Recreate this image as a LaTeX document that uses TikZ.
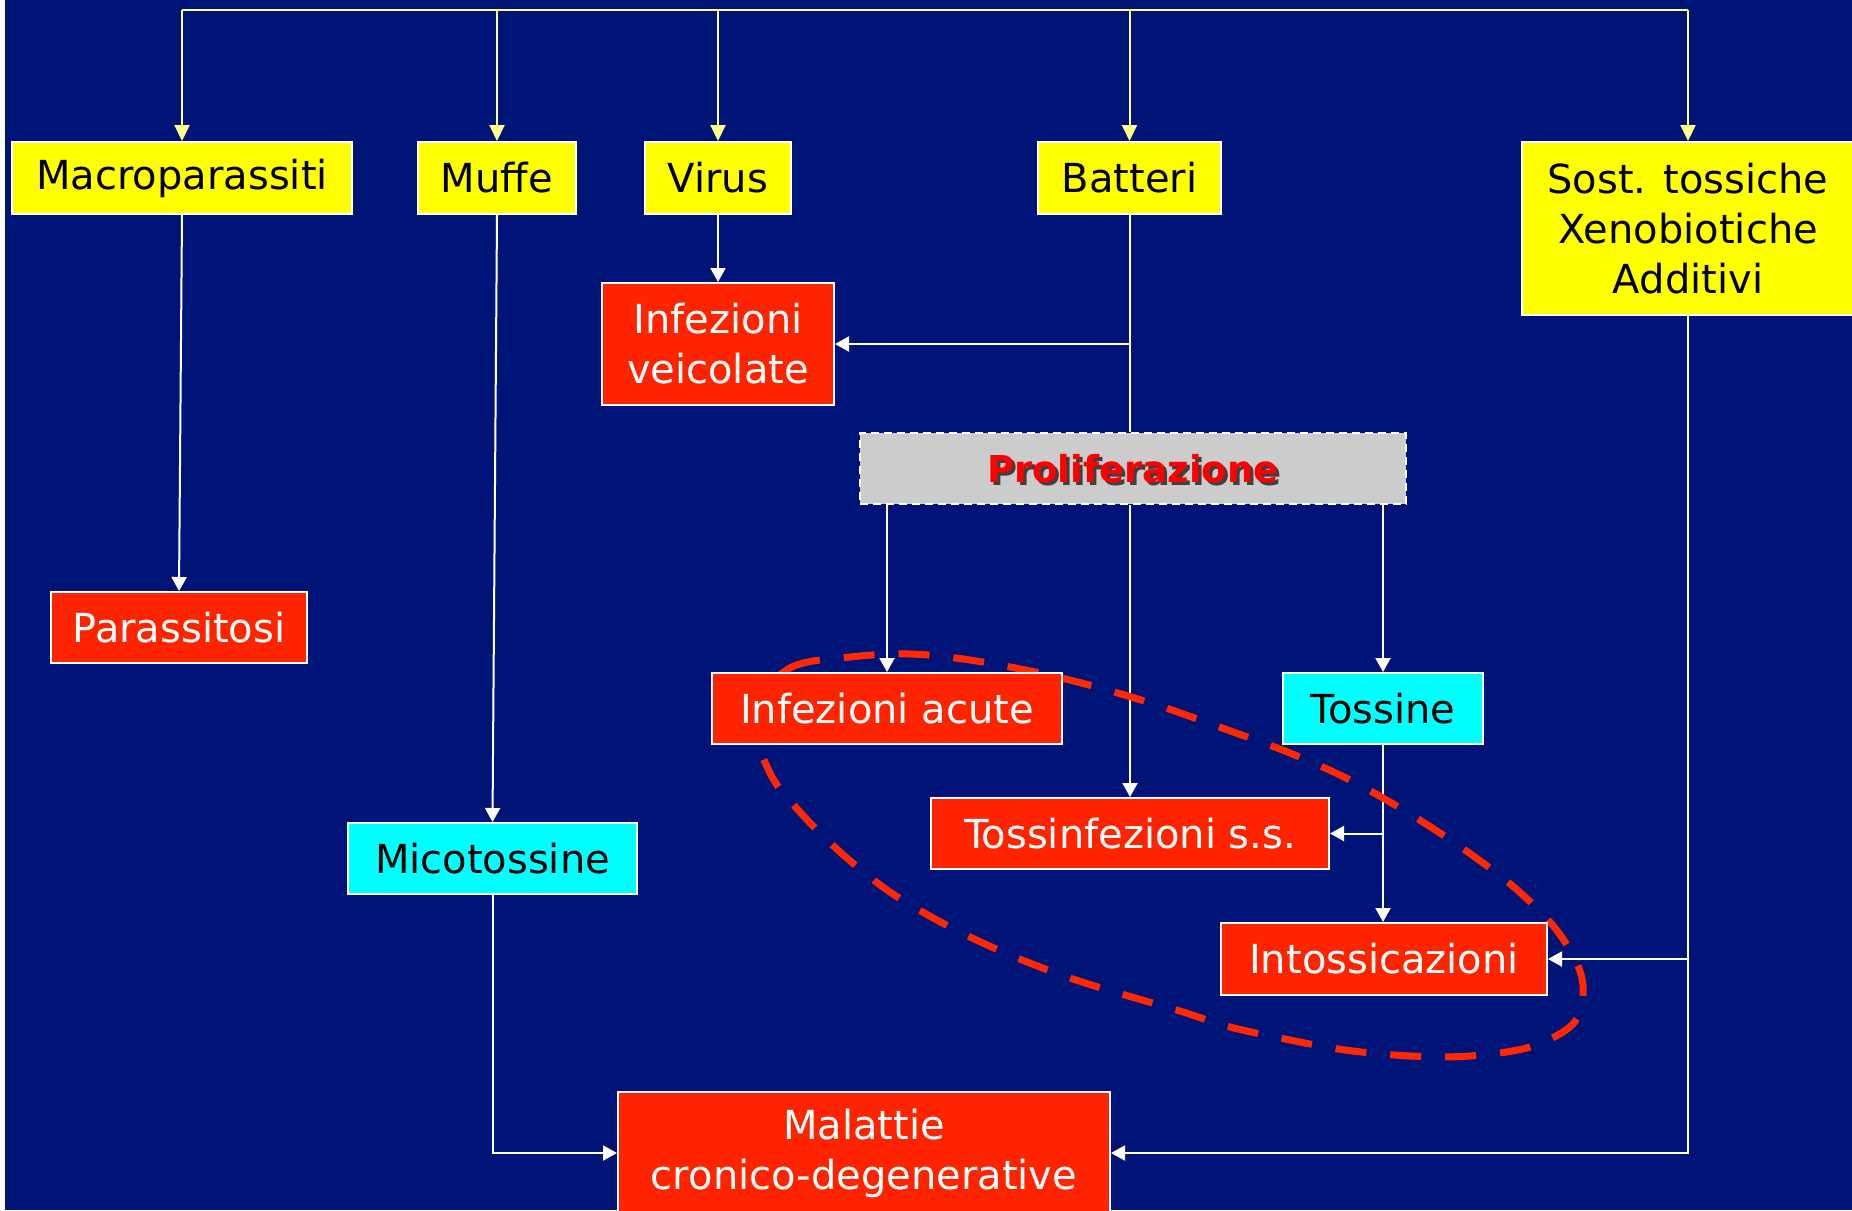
\documentclass[tikz,border=0pt]{standalone}
\usepackage{fontspec}
\setmainfont{DejaVu Sans}
\usetikzlibrary{arrows.meta}
\definecolor{navy}{RGB}{0,20,120}
\definecolor{boxred}{RGB}{255,36,0}
\definecolor{boxyellow}{RGB}{255,255,0}
\definecolor{boxcyan}{RGB}{0,255,255}
\definecolor{boxgray}{RGB}{204,204,204}
\definecolor{paleyellow}{RGB}{255,255,140}
\definecolor{ovalred}{RGB}{255,40,0}
\pgfdeclarelayer{bg}
\pgfdeclarelayer{mid}
\pgfsetlayers{bg,mid,main}
\tikzset{
  box/.style={draw=white, line width=2pt, inner sep=0pt, align=center,
    font=\fontsize{40}{50}\selectfont},
  ybox/.style={box, fill=boxyellow, text=black},
  rbox/.style={box, fill=boxred, text=white},
  cbox/.style={box, fill=boxcyan, text=black},
  gbox/.style={draw=white, line width=2pt, dash pattern=on 8pt off 5pt, fill=boxgray, inner sep=0pt},
  proltext/.style={font=\bfseries\fontsize{37}{44}\selectfont, inner sep=0pt},
  wline/.style={draw=white, line width=2pt},
  warrow/.style={wline, -{Triangle[length=14pt,width=15pt]}},
  yline/.style={draw=paleyellow, line width=2pt},
  yarrow/.style={yline, -{Triangle[length=16pt,width=15pt]}},
  oval/.style={draw=ovalred, line width=7pt, dash pattern=on 31pt off 24pt},
}
\begin{document}
\begin{tikzpicture}[x=1pt,y=1pt]
\path[use as bounding box] (0,0) rectangle (1852,-1210);
\clip (0,0) rectangle (1852,-1210);

% nodes
\node[ybox, minimum width=340pt, minimum height=72pt] (macro) at (182,-178) {Macroparassiti};
\node[ybox, minimum width=158pt, minimum height=72pt] (muffe) at (497,-178) {Muffe};
\node[ybox, minimum width=146pt, minimum height=72pt] (virus) at (718,-178) {Virus};
\node[ybox, minimum width=183pt, minimum height=72pt] (batteri) at (1129.5,-178) {Batteri};
\node[ybox, minimum width=332pt, minimum height=173pt] (sost) at (1688,-228.5) {Sost. tossiche\\Xenobiotiche\\Additivi};
\node[rbox, minimum width=232pt, minimum height=122pt] (infveic) at (718,-344) {Infezioni\\veicolate};
\node[gbox, minimum width=546pt, minimum height=71pt] (prolif) at (1133,-468.5) {};
\node[proltext, text=black!75] (prolshadow) at ([shift={(3,-3)}]prolif.center) {Proliferazione};
\node[proltext, text=red] (prolt) at (prolif.center) {Proliferazione};
\node[rbox, minimum width=256pt, minimum height=71pt] (parass) at (179,-627.5) {Parassitosi};
\node[cbox, minimum width=289pt, minimum height=71pt] (micot) at (492.5,-858.5) {Micotossine};
\node[rbox, minimum width=350pt, minimum height=71pt] (infac) at (887,-708.5) {Infezioni acute};
\node[cbox, minimum width=200pt, minimum height=71pt] (tossine) at (1383,-708.5) {Tossine};
\node[rbox, minimum width=398pt, minimum height=71pt] (tossinf) at (1130,-833.5) {Tossinfezioni s.s.};
\node[rbox, minimum width=326pt, minimum height=72pt] (intox) at (1384,-959) {Intossicazioni};
\node[rbox, minimum width=492pt, minimum height=122pt] (malattie) at (864,-1153) {Malattie\\cronico-degenerative};

\begin{pgfonlayer}{bg}
  \fill[white] (0,0) rectangle (1852,-1210);
  \fill[navy] (5,0) rectangle (1852,-1210);
  % top bus
  \coordinate (busL) at (182,-10);
  \coordinate (busR) at (1688,-10);
  \draw[yline] (busL) -- (busR);
  \foreach \n in {macro,muffe,virus,batteri,sost}
    \draw[yarrow] (\n.north |- busL) -- (\n.north);
  % white connectors
  \draw[warrow] (macro.south) -- (parass.north);
  \draw[warrow] (muffe.south) -- (micot.north);
  \draw[warrow] (virus.south) -- (infveic.north);
  \draw[wline] (batteri.south) -- (batteri.south |- prolif.north);
  \draw[warrow] (batteri.south |- infveic.east) -- (infveic.east);
  \draw[warrow] (infac.north |- prolif.south) -- (infac.north);
  \draw[warrow] (tossinf.north |- prolif.south) -- (tossinf.north);
  \draw[warrow] (tossine.north |- prolif.south) -- (tossine.north);
  \draw[warrow] (tossine.south) -- (tossine.south |- intox.north);
  \draw[warrow] (tossine.south |- tossinf.east) -- (tossinf.east);
  \draw[warrow] (sost.south) |- (malattie.east);
  \draw[warrow] (sost.south |- intox.east) -- (intox.east);
  \draw[warrow] (micot.south) |- (malattie.west);
\end{pgfonlayer}

\begin{pgfonlayer}{mid}
  \draw[oval] plot[smooth cycle, tension=0.55] coordinates {
    (752,-712) (790,-668) (850,-657) (910,-654) (970,-660) (1040,-673)
    (1100,-688) (1160,-706) (1225,-729) (1290,-753) (1350,-780) (1410,-814)
    (1465,-850) (1515,-888) (1555,-928) (1578,-966) (1583,-995) (1572,-1025)
    (1530,-1047) (1470,-1056) (1410,-1056) (1345,-1050) (1290,-1040)
    (1230,-1027) (1180,-1011) (1125,-995) (1070,-978) (1010,-955) (950,-927)
    (890,-892) (840,-852) (800,-812) (770,-773)};
\end{pgfonlayer}
\end{tikzpicture}
\end{document}
